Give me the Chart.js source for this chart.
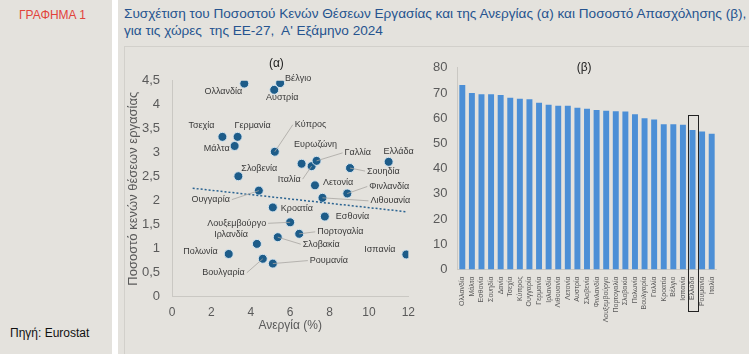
<!DOCTYPE html>
<html>
<head>
<meta charset="utf-8">
<script src="https://cdn.jsdelivr.net/npm/chart.js@4.4.1/dist/chart.umd.min.js"></script>
<style>
  body { margin: 0; width: 749px; height: 354px; background: #fff; overflow: hidden; position: relative;
         font-family: "Liberation Sans", Arial, sans-serif; }
  #side { position: absolute; left: 0; top: 0; width: 112px; height: 354px; background: #e4e2dd; }
  #tag { position: absolute; left: 19px; top: 8px; color: #e2433b; font-size: 12px; }
  #src { position: absolute; left: 10px; top: 326px; font-size: 12px; color: #111; }
  #main { position: absolute; left: 118px; top: 0; width: 631px; height: 354px; background: #e4e2dd; }
  #title { position: absolute; left: 124px; top: 5px; color: #26548f; font-size: 13.6px; line-height: 17px; white-space: nowrap; }
  #frame { position: absolute; left: 124px; top: 46px; width: 625px; height: 308px; border-top: 1px solid #d2d0cb; border-left: 1px solid #d2d0cb; }
  canvas { position: absolute; }
  #sc { left: 124px; top: 50px; }
  #bar { left: 425px; top: 50px; }
</style>
</head>
<body>
<div id="side"></div>
<div id="tag">ΓΡΑΦΗΜΑ 1</div>
<div id="src">Πηγή: Eurostat</div>
<div id="main"></div>
<div id="title">Συσχέτιση του Ποσοστού Κενών Θέσεων Εργασίας και της Ανεργίας (α) και Ποσοστό Απασχόλησης (β),<br>για τις χώρες&nbsp; της ΕΕ-27,&nbsp; Α' Εξάμηνο 2024</div>
<div id="frame"></div>
<canvas id="sc" width="300" height="300"></canvas>
<canvas id="bar" width="324" height="300"></canvas>
<script>
// (α) ανεργία (%) και ποσοστό κενών θέσεων
var scCountries = ['Ολλανδία', 'Βέλγιο', 'Αυστρία', 'Τσεχία', 'Γερμανία', 'Μάλτα', 'Κύπρος', 'Σλοβενία',
  'Ευρωζώνη', 'Ιταλία', 'Γαλλία', 'Ελλάδα', 'Σουηδία', 'Λετονία', 'Φινλανδία', 'Λιθουανία', 'Ουγγαρία',
  'Κροατία', 'Εσθονία', 'Λουξεμβούργο', 'Πορτογαλία', 'Σλοβακία', 'Ιρλανδία', 'Πολωνία', 'Βουλγαρία',
  'Ρουμανία', 'Ισπανία'];
var unemployment = [3.67, 5.49, 5.19, 2.56, 3.33, 3.18, 5.22, 3.37, 6.58, 7.09, 7.34, 11.0, 9.04, 7.26, 8.9,
  7.64, 4.41, 5.12, 7.76, 6.0, 6.46, 5.37, 4.31, 2.88, 4.61, 5.12, 11.9];
var vacancy = [4.44, 4.45, 4.31, 3.33, 3.33, 3.14, 3.02, 2.51, 2.77, 2.72, 2.83, 2.81, 2.68, 2.32, 2.15,
  2.06, 2.21, 1.86, 1.67, 1.55, 1.31, 1.24, 1.10, 0.89, 0.79, 0.69, 0.88];
// γραμμή τάσης (άκρα)
var trendX = [1.05, 11.9];
var trendY = [2.26, 1.77];

// (β) ποσοστό απασχόλησης
var barCountries = ['Ολλανδία', 'Μάλτα', 'Εσθονία', 'Σουηδία', 'Δανία', 'Τσεχία', 'Κύπρος', 'Ουγγαρία',
  'Γερμανία', 'Ιρλανδία', 'Λιθουανία', 'Λετονία', 'Αυστρία', 'Σλοβενία', 'Φινλανδία', 'Λουξεμβούργο',
  'Πορτογαλία', 'Σλοβακία', 'Πολωνία', 'Βουλγαρία', 'Γαλλία', 'Κροατία', 'Βέλγιο', 'Ισπανία', 'Ελλάδα',
  'Ρουμανία', 'Ιταλία'];
var employment = [73.2, 70.0, 69.5, 69.5, 69.2, 68.1, 67.7, 67.5, 66.1, 65.3, 64.9, 64.9, 64.2, 63.8, 63.3,
  63.0, 62.8, 62.7, 61.6, 60.0, 59.5, 57.6, 57.6, 57.4, 55.3, 54.7, 53.8];
var highlight = 'Ελλάδα';

// θέσεις ετικετών: [dx, dy, στοίχιση, γραμμή]
var labelPos = {
  'Ολλανδία': [-2, 8, 'right', false], 'Βέλγιο': [5, -5, 'left', false], 'Αυστρία': [8, 8, 'center', false],
  'Τσεχία': [-8, -11, 'right', false], 'Γερμανία': [-3, -11, 'left', false], 'Μάλτα': [-5, 3, 'right', false],
  'Κύπρος': [20, -27, 'left', true], 'Σλοβενία': [3, -8, 'left', false], 'Ευρωζώνη': [14, -19, 'center', false],
  'Ιταλία': [-11, 13, 'right', true], 'Γαλλία': [28, -8, 'left', true], 'Ελλάδα': [10, -10, 'center', false],
  'Σουηδία': [17, 3, 'left', true], 'Λετονία': [8, -3, 'left', false], 'Φινλανδία': [22, -7, 'left', true],
  'Λιθουανία': [48, 3, 'left', true], 'Ουγγαρία': [-29, 9, 'right', true], 'Κροατία': [8, 1, 'left', false],
  'Εσθονία': [11, 0, 'left', false], 'Λουξεμβούργο': [-24, 1, 'right', true], 'Πορτογαλία': [18, -2, 'left', true],
  'Σλοβακία': [25, 7, 'left', true], 'Ιρλανδία': [-9, -9, 'right', false], 'Πολωνία': [-11, -2, 'right', false],
  'Βουλγαρία': [-18, 14, 'right', true], 'Ρουμανία': [37, -3, 'left', true], 'Ισπανία': [-11, -5, 'right', false]
};

var tickColor = '#5a5a5a';
var axisLine = '#cac8c3';

var pointLabels = {
  id: 'pointLabels',
  afterDatasetsDraw: function (chart) {
    var ctx = chart.ctx;
    var meta = chart.getDatasetMeta(1);
    ctx.save();
    ctx.font = '9px "Liberation Sans", Arial, sans-serif';
    ctx.textBaseline = 'middle';
    meta.data.forEach(function (pt, i) {
      var p = labelPos[scCountries[i]];
      var ax = pt.x + p[0], ay = pt.y + p[1];
      if (p[3]) {
        ctx.strokeStyle = '#a8a6a2';
        ctx.lineWidth = 0.8;
        ctx.beginPath();
        ctx.moveTo(p[2] === 'left' ? ax - 2 : ax + 2, ay);
        ctx.lineTo(pt.x, pt.y);
        ctx.stroke();
      }
      ctx.fillStyle = '#3a3a3a';
      ctx.textAlign = p[2];
      ctx.fillText(scCountries[i], ax, ay);
    });
    ctx.font = '12px "Liberation Sans", Arial, sans-serif';
    ctx.textAlign = 'center';
    ctx.fillStyle = '#222';
    ctx.fillText('(α)', chart.scales.x.getPixelForValue(5.3), chart.chartArea.top - 17);
    ctx.restore();
  }
};

new Chart(document.getElementById('sc'), {
  type: 'scatter',
  data: {
    datasets: [{
      type: 'line',
      data: trendX.map(function (x, i) { return { x: x, y: trendY[i] }; }),
      borderColor: '#2a6391',
      borderWidth: 1.5,
      borderDash: [2, 2],
      pointRadius: 0,
      fill: false
    }, {
      data: unemployment.map(function (x, i) { return { x: x, y: vacancy[i] }; }),
      backgroundColor: '#1d5c89',
      borderColor: '#d5e4ee',
      borderWidth: 1,
      pointRadius: 4.5
    }]
  },
  options: {
    responsive: false,
    animation: false,
    layout: { padding: { left: 0, right: 14, top: 30.7, bottom: 12.8 } },
    plugins: { legend: { display: false }, tooltip: { enabled: false } },
    scales: {
      x: {
        min: 0, max: 12,
        grid: { display: false, drawTicks: false },
        border: { color: axisLine },
        ticks: { stepSize: 2, padding: 9, color: tickColor, font: { size: 12 } },
        title: { display: true, text: 'Ανεργία (%)', color: tickColor, font: { size: 12 }, padding: 4 },
        afterFit: function (s) { s.height = 40.5; }
      },
      y: {
        min: 0, max: 4.5,
        grid: { display: false, drawTicks: false },
        border: { color: axisLine },
        ticks: {
          stepSize: 0.5, padding: 12, color: tickColor, font: { size: 13 },
          callback: function (v) { return String(v).replace('.', ','); }
        },
        title: { display: true, text: 'Ποσοστό κενών θέσεων εργασίας', color: tickColor, font: { size: 13 }, padding: 2 },
        afterFit: function (s) { s.width = 48; }
      }
    }
  },
  plugins: [pointLabels]
});

var barExtras = {
  id: 'barExtras',
  afterDraw: function (chart) {
    var ctx = chart.ctx;
    var xs = chart.scales.x, ys = chart.scales.y;
    var i = barCountries.indexOf(highlight);
    var cx = xs.getPixelForValue(i);
    var w = xs.width / barCountries.length;
    ctx.save();
    ctx.strokeStyle = '#222';
    ctx.lineWidth = 1;
    ctx.strokeRect(Math.round(cx - w / 2) + 0.5, Math.round(ys.getPixelForValue(employment[i]) - 15) + 0.5,
      Math.round(w), Math.round(chart.chartArea.bottom + 42 - ys.getPixelForValue(employment[i]) + 15));
    ctx.font = '12px "Liberation Sans", Arial, sans-serif';
    ctx.textAlign = 'center';
    ctx.textBaseline = 'middle';
    ctx.fillStyle = '#222';
    ctx.fillText('(β)', xs.getPixelForValue(12.7), chart.chartArea.top);
    ctx.restore();
  }
};

new Chart(document.getElementById('bar'), {
  type: 'bar',
  data: {
    labels: barCountries,
    datasets: [{
      data: employment,
      backgroundColor: '#4c8fd6',
      barPercentage: 0.62,
      categoryPercentage: 1
    }]
  },
  options: {
    responsive: false,
    animation: false,
    layout: { padding: { left: 0, right: 32.5, top: 16.7, bottom: 0 } },
    plugins: { legend: { display: false }, tooltip: { enabled: false } },
    scales: {
      x: {
        grid: { display: false, drawTicks: false },
        border: { color: axisLine },
        ticks: { autoSkip: false, minRotation: 90, maxRotation: 90, padding: 7, color: tickColor, font: { size: 7 } },
        afterFit: function (s) { s.height = 80.5; }
      },
      y: {
        min: 0, max: 80,
        grid: { display: false, drawTicks: false },
        border: { color: axisLine },
        ticks: { stepSize: 10, padding: 10, color: tickColor, font: { size: 13 } },
        afterFit: function (s) { s.width = 32.5; }
      }
    }
  },
  plugins: [barExtras]
});
</script>
</body>
</html>
